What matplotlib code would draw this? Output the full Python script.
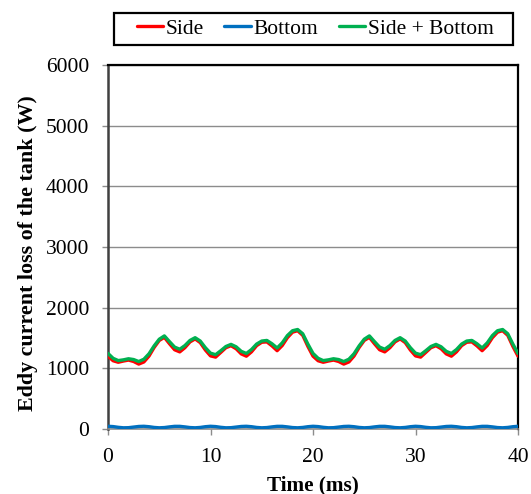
import matplotlib
matplotlib.use("Agg")
import matplotlib.pyplot as plt
from matplotlib.patches import Rectangle

time_ms = [0.0, 0.5, 1.0, 1.5, 2.0, 2.5, 3.0, 3.5, 4.0, 4.5, 5.0, 5.5, 6.0, 6.5, 7.0, 7.5, 8.0, 8.5, 9.0, 9.5,
           10.0, 10.5, 11.0, 11.5, 12.0, 12.5, 13.0, 13.5, 14.0, 14.5, 15.0, 15.5, 16.0, 16.5, 17.0, 17.5, 18.0, 18.5, 19.0, 19.5,
           20.0, 20.5, 21.0, 21.5, 22.0, 22.5, 23.0, 23.5, 24.0, 24.5, 25.0, 25.5, 26.0, 26.5, 27.0, 27.5, 28.0, 28.5, 29.0, 29.5,
           30.0, 30.5, 31.0, 31.5, 32.0, 32.5, 33.0, 33.5, 34.0, 34.5, 35.0, 35.5, 36.0, 36.5, 37.0, 37.5, 38.0, 38.5, 39.0, 39.5,
           40.0]

side_bottom = [1246, 1165, 1128, 1140, 1158, 1145, 1112, 1150, 1240, 1370, 1480, 1535, 1440, 1350, 1315, 1375, 1460, 1505, 1450, 1340,
               1250, 1225, 1290, 1360, 1395, 1355, 1280, 1245, 1310, 1400, 1450, 1460, 1405, 1335, 1420, 1540, 1620, 1640, 1570, 1400,
               1246, 1165, 1128, 1140, 1158, 1145, 1112, 1150, 1240, 1370, 1480, 1535, 1440, 1350, 1315, 1375, 1460, 1505, 1450, 1340,
               1250, 1225, 1290, 1360, 1395, 1355, 1280, 1245, 1310, 1400, 1450, 1460, 1405, 1335, 1420, 1540, 1620, 1640, 1570, 1400,
               1246]

bottom = [45, 40, 28, 20, 22, 32, 42, 45, 38, 26, 20, 24, 35, 44, 44, 35, 24, 20, 26, 38,
          45, 40, 28, 20, 22, 32, 42, 45, 38, 26, 20, 24, 35, 44, 44, 35, 24, 20, 26, 38,
          45, 40, 28, 20, 22, 32, 42, 45, 38, 26, 20, 24, 35, 44, 44, 35, 24, 20, 26, 38,
          45, 40, 28, 20, 22, 32, 42, 45, 38, 26, 20, 24, 35, 44, 44, 35, 24, 20, 26, 38,
          45]

side = [1201, 1125, 1100, 1120, 1136, 1113, 1070, 1105, 1202, 1344, 1460, 1511, 1405, 1306, 1271, 1340, 1436, 1485, 1424, 1302,
        1205, 1185, 1262, 1340, 1373, 1323, 1238, 1200, 1272, 1374, 1430, 1436, 1370, 1291, 1376, 1505, 1596, 1620, 1544, 1362,
        1201, 1125, 1100, 1120, 1136, 1113, 1070, 1105, 1202, 1344, 1460, 1511, 1405, 1306, 1271, 1340, 1436, 1485, 1424, 1302,
        1205, 1185, 1262, 1340, 1373, 1323, 1238, 1200, 1272, 1374, 1430, 1436, 1370, 1291, 1376, 1505, 1596, 1620, 1544, 1362,
        1201]

x_ticks = [0, 10, 20, 30, 40]
y_ticks = [0, 1000, 2000, 3000, 4000, 5000, 6000]
series_names = ["Side", "Bottom", "Side + Bottom"]

plt.rcParams['font.family'] = ['Liberation Serif', 'DejaVu Serif']

W, H = 531, 494
fig = plt.figure(figsize=(W / 100, H / 100), dpi=100)
ax = fig.add_axes([108 / W, 1 - 429 / H, (518 - 108) / W, (429 - 65) / H])

kw = dict(lw=2.4, solid_joinstyle='round', solid_capstyle='round')
ax.plot(time_ms, side, color="#FF0000", label=series_names[0], zorder=3, **kw)
ax.plot(time_ms, bottom, color="#0070C0", label=series_names[1], zorder=4, **kw)
ax.plot(time_ms, side_bottom, color="#00B050", label=series_names[2], zorder=5, **kw)

ax.set_xlim(0, 40)
ax.set_ylim(0, 6000)
ax.set_xticks(x_ticks)
ax.set_yticks(y_ticks)
ax.grid(axis='y', color="#8C8C8C", lw=1.0, zorder=1)
ax.set_axisbelow(True)

for s in ['top', 'right']:
    ax.spines[s].set_color('black')
    ax.spines[s].set_linewidth(1.6)
ax.spines['left'].set_color('#404040')
ax.spines['left'].set_linewidth(1.8)
ax.spines['bottom'].set_color('#8C8C8C')
ax.spines['bottom'].set_linewidth(1.2)

ax.tick_params(axis='both', direction='out', length=4.5, width=1.0, color='#8C8C8C',
               labelsize=15.5, labelcolor='black')
ax.tick_params(axis='y', pad=9)
ax.tick_params(axis='x', pad=9)

ax.set_xlabel("Time (ms)", fontsize=15.3, fontweight='bold', labelpad=6)
ax.set_ylabel("Eddy current loss of the tank (W)", fontsize=15.8, fontweight='bold')
ax.yaxis.set_label_coords((38 - 108) / 410, (429 - 253) / 364)

# legend frame drawn as a figure rectangle
fig.patches.append(Rectangle((114 / W, 1 - 45 / H), (513 - 114) / W, (45 - 13) / H,
                             transform=fig.transFigure, fill=True, facecolor='white',
                             edgecolor='black', lw=1.6, zorder=10))
leg = fig.legend(loc='center', bbox_to_anchor=(315 / W, 1 - 29 / H), ncol=3,
                 frameon=False, fontsize=15.5,
                 handlelength=1.25, handletextpad=0.1, columnspacing=0.95,
                 borderpad=0.2)
leg.set_zorder(11)

fig.savefig("out.png", dpi=100)
